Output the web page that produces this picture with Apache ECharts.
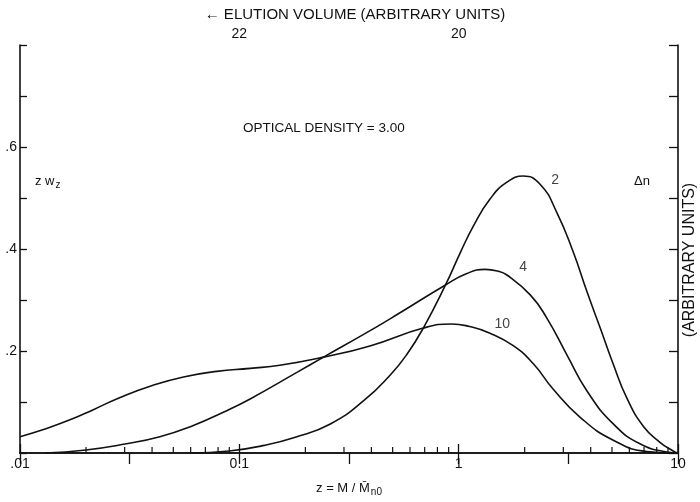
<!DOCTYPE html>
<html>
<head>
<meta charset="utf-8">
<script src="https://cdn.jsdelivr.net/npm/echarts@6/dist/echarts.min.js"></script>
<style>
html,body{margin:0;padding:0;background:#fff;}
#c{width:700px;height:502px;}
</style>
</head>
<body>
<div id="c"></div>
<script>
// ---- data (z = M/Mn0 on log axis, value = z*w_z) ----
const z2  = [0.06, 0.09, 0.13, 0.18, 0.26, 0.37, 0.49, 0.58, 0.69, 0.87, 1.02, 1.17, 1.39, 1.66, 1.97, 2.35, 2.8, 3.33, 3.84, 4.42, 5.07, 5.84, 6.96, 8.27, 9.5, 10];
const v2  = [0, 0.004, 0.015, 0.031, 0.057, 0.103, 0.154, 0.193, 0.245, 0.329, 0.394, 0.446, 0.498, 0.531, 0.543, 0.527, 0.472, 0.394, 0.317, 0.245, 0.174, 0.108, 0.052, 0.021, 0.004, 0];
const z4  = [0.013, 0.02, 0.0296, 0.0434, 0.0617, 0.0845, 0.112, 0.183, 0.242, 0.367, 0.522, 0.867, 1.09, 1.32, 1.5, 1.66, 2.12, 2.52, 3.11, 3.84, 5.07, 6.71, 8.9, 10];
const v4  = [0, 0.006, 0.017, 0.032, 0.054, 0.080, 0.106, 0.158, 0.188, 0.232, 0.271, 0.329, 0.352, 0.36, 0.357, 0.349, 0.31, 0.265, 0.193, 0.122, 0.057, 0.018, 0.002, 0];
const z10 = [0.01, 0.0128, 0.0169, 0.0216, 0.0286, 0.0392, 0.0556, 0.0789, 0.112, 0.153, 0.242, 0.394, 0.69, 0.93, 1.12, 1.39, 1.78, 2.19, 2.7, 3.58, 5.07, 7.21, 10];
const v10 = [0.032, 0.046, 0.065, 0.085, 0.109, 0.131, 0.149, 0.160, 0.166, 0.172, 0.188, 0.21, 0.245, 0.253, 0.248, 0.235, 0.21, 0.175, 0.125, 0.070, 0.025, 0.003, 0];

const curveNames = ['2', '4', '10'];
const labelZ = [2.75, 1.97, 1.58];
const labelV = [0.535, 0.364, 0.253];

const bottomTickLabels = {0.01: '.01', 0.1: '0.1', 1: '1', 10: '10'};
const leftTickLabels = {0.2: '.2', 0.4: '.4', 0.6: '.6'};
const topTickLabels = {22: '22', 20: '20'};
const minorTicks = [0.02,0.03,0.04,0.05,0.06,0.07,0.08,0.09, 0.2,0.3,0.4,0.5,0.6,0.7,0.8,0.9, 2,3,4,5,6,7,8,9];

// ---- chart ----
const FONT = "'Liberation Sans','Arial',sans-serif";
const INK = '#111';
const zip = (a, b) => a.map((x, i) => [x, b[i]]);

const chart = echarts.init(document.getElementById('c'), null, {renderer: 'canvas'});

const lineSeries = (name, zs, vs) => ({
  name: name, type: 'line', xAxisIndex: 0, yAxisIndex: 0,
  data: zip(zs, vs), smooth: 0.5,
  symbol: 'none', lineStyle: {color: INK, width: 1.6}, z: 3
});

const option = {
  animation: false,
  backgroundColor: '#fff',
  textStyle: {fontFamily: FONT, color: INK},
  grid: {left: 20, right: 22, top: 45, bottom: 46, containLabel: false},
  xAxis: [
    {
      type: 'log', logBase: 10, min: 0.01, max: 10, position: 'bottom',
      axisLine: {lineStyle: {color: INK, width: 1.6}},
      axisTick: {inside: true, length: 9, lineStyle: {color: INK, width: 1.3}},
      axisLabel: {fontFamily: FONT, fontSize: 14, color: INK, margin: 4,
        formatter: v => bottomTickLabels[+(+v).toPrecision(3)] || ''},
      splitLine: {show: false},
      name: '{a|z = M / M\u0304}{s|n0}', nameLocation: 'middle', nameGap: 26,
      nameTextStyle: {fontFamily: FONT, color: INK, rich: {
        a: {fontFamily: FONT, fontSize: 13, color: INK},
        s: {fontFamily: FONT, fontSize: 10, color: INK, verticalAlign: 'bottom', padding: [8, 0, 0, 1]}
      }}
    },
    {
      type: 'value', min: 18, max: 24, interval: 1, inverse: true, position: 'top',
      axisLine: {lineStyle: {color: INK, width: 1.6}},
      axisTick: {inside: true, length: 11, lineStyle: {color: INK, width: 1.3}},
      axisLabel: {fontFamily: FONT, fontSize: 14, color: INK, margin: 4,
        formatter: v => topTickLabels[v] || ''},
      splitLine: {show: false},
      name: '\u2190 ELUTION VOLUME (ARBITRARY UNITS)', nameLocation: 'middle', nameGap: 22,
      nameTextStyle: {fontFamily: FONT, fontSize: 15, color: INK, padding: [0, 0, 0, 12]}
    }
  ],
  yAxis: [
    {
      type: 'value', min: 0, max: 0.8, interval: 0.1, position: 'left',
      axisLine: {show: true, lineStyle: {color: INK, width: 1.6}},
      axisTick: {show: true, inside: true, length: 7, lineStyle: {color: INK, width: 1.3}},
      axisLabel: {fontFamily: FONT, fontSize: 14, color: INK, margin: 3,
        formatter: v => leftTickLabels[+(+v).toFixed(1)] || ''},
      splitLine: {show: false}
    },
    {
      type: 'value', min: 0, max: 0.8, interval: 0.1, position: 'right',
      axisLine: {show: true, lineStyle: {color: INK, width: 1.6}},
      axisTick: {show: true, inside: true, length: 9, lineStyle: {color: INK, width: 1.3}},
      axisLabel: {show: false},
      splitLine: {show: false}
    }
  ],
  series: [
    lineSeries(curveNames[0], z2, v2),
    lineSeries(curveNames[1], z4, v4),
    lineSeries(curveNames[2], z10, v10),
    {
      type: 'scatter', xAxisIndex: 0, yAxisIndex: 0, symbolSize: 0, silent: true,
      data: curveNames.map((n, i) => [labelZ[i], labelV[i], n]),
      label: {show: true, position: 'inside', formatter: p => p.value[2],
        fontFamily: FONT, fontSize: 14, color: INK}
    },
    {
      type: 'custom', xAxisIndex: 0, yAxisIndex: 0, silent: true,
      data: minorTicks.map(t => [t, 0]),
      encode: {x: 0, y: 1},
      renderItem: (params, api) => {
        const p = api.coord([api.value(0), 0]);
        return {type: 'line', shape: {x1: p[0], y1: p[1], x2: p[0], y2: p[1] - 6},
          style: {stroke: INK, lineWidth: 1.2}};
      }
    }
  ],
  graphic: [
    {type: 'text', left: 243, top: 121, style: {text: 'OPTICAL DENSITY = 3.00', font: "13.5px " + FONT, fill: INK}},
    {type: 'text', left: 35, top: 175, style: {
      text: '{a|z w}{s|z}', font: "13px " + FONT, fill: INK,
      rich: {a: {font: "13px " + FONT, fill: INK}, s: {font: "10px " + FONT, fill: INK, padding: [7, 0, 0, 1]}}
    }},
    {type: 'text', left: 634, top: 175, style: {text: '\u0394n', font: "13px " + FONT, fill: INK}},
    {type: 'text', x: 690, y: 260, rotation: Math.PI / 2,
      style: {text: '(ARBITRARY UNITS)', font: "16px " + FONT, fill: INK, align: 'center', verticalAlign: 'middle'}}
  ]
};
chart.setOption(option);
</script>
</body>
</html>
